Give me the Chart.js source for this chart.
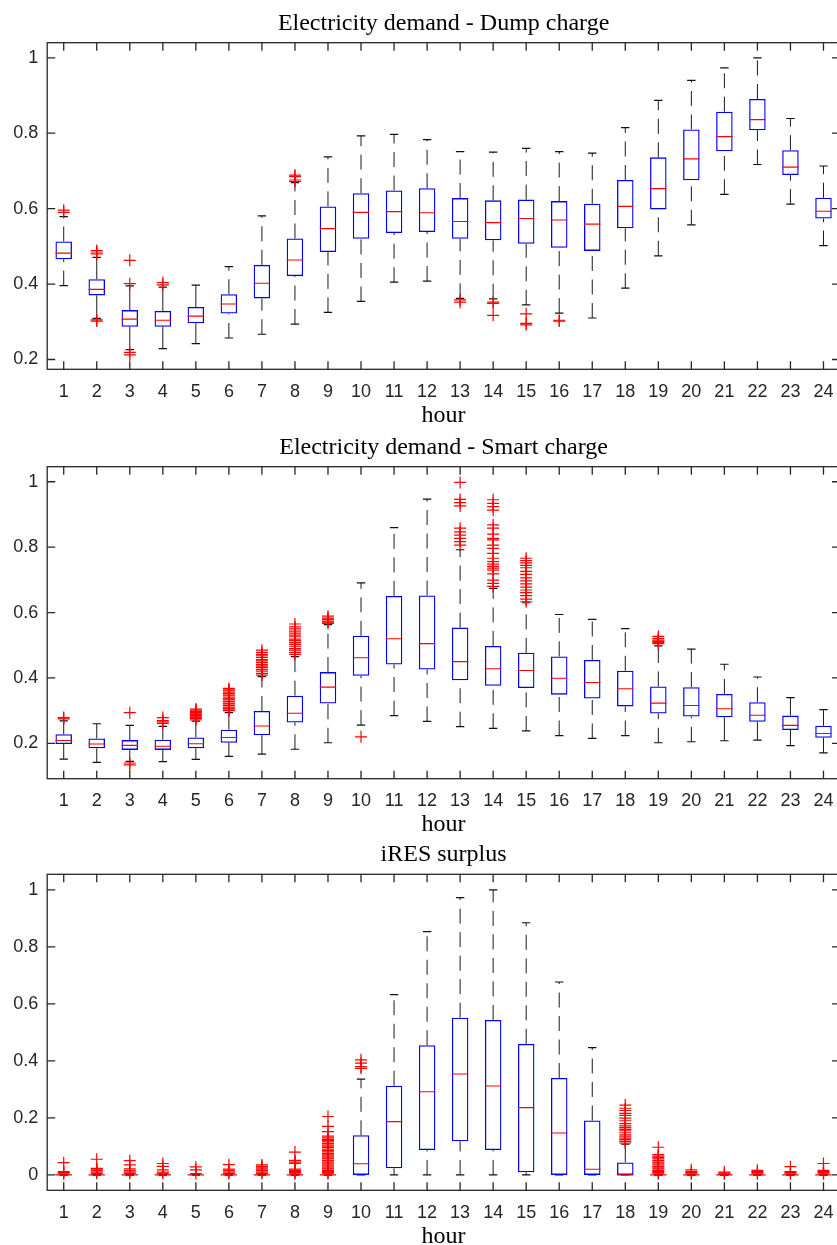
<!DOCTYPE html>
<html><head><meta charset="utf-8">
<script src="https://cdn.jsdelivr.net/npm/chart.js@4.4.1/dist/chart.umd.min.js"></script>
<style>
html,body{margin:0;padding:0;background:#fff;overflow:hidden;width:837px;height:1245px;position:relative;}
canvas{position:absolute;left:0;}
</style></head><body>
<canvas id="c1" width="840" height="430" style="top:0px;width:840px;height:430px"></canvas>
<canvas id="c2" width="840" height="430" style="top:424px;width:840px;height:430px"></canvas>
<canvas id="c3" width="840" height="430" style="top:832px;width:840px;height:430px"></canvas>
<script>
// ---------- data ----------
const hours = [1,2,3,4,5,6,7,8,9,10,11,12,13,14,15,16,17,18,19,20,21,22,23,24];
const xLabel = 'hour';
const titleDump = 'Electricity demand - Dump charge';
const titleSmart = 'Electricity demand - Smart charge';
const titleIres = 'iRES surplus';

const yTicksDump = [0.2, 0.4, 0.6, 0.8, 1];
const yTicksSmart = [0.2, 0.4, 0.6, 0.8, 1];
const yTicksIres = [0, 0.2, 0.4, 0.6, 0.8, 1];
const yLimDump = [0.174, 1.040];
const yLimSmart = [0.092, 1.046];
const yLimIres = [-0.054, 1.055];

const dumpLo  = [0.396,0.309,0.226,0.229,0.242,0.257,0.267,0.294,0.325,0.354,0.405,0.408,0.362,0.361,0.345,0.323,0.310,0.389,0.475,0.557,0.638,0.717,0.612,0.502];
const dumpQ1  = [0.466,0.370,0.287,0.287,0.296,0.322,0.362,0.421,0.485,0.520,0.535,0.538,0.520,0.516,0.507,0.496,0.488,0.548,0.598,0.675,0.752,0.808,0.689,0.574];
const dumpMed = [0.482,0.386,0.307,0.304,0.315,0.347,0.402,0.464,0.547,0.590,0.592,0.589,0.566,0.563,0.574,0.570,0.559,0.606,0.653,0.732,0.791,0.836,0.710,0.593];
const dumpQ3  = [0.513,0.413,0.331,0.329,0.339,0.373,0.451,0.521,0.606,0.641,0.648,0.654,0.628,0.622,0.624,0.620,0.613,0.676,0.736,0.810,0.857,0.891,0.755,0.629];
const dumpHi  = [0.579,0.471,0.395,0.392,0.397,0.446,0.581,0.669,0.737,0.793,0.797,0.783,0.751,0.750,0.760,0.751,0.747,0.815,0.887,0.940,0.973,1.000,0.839,0.713];
const dumpOut = [[0.590,0.596],[0.302,0.305,0.480,0.485,0.489],[0.212,0.219,0.401,0.463],[0.398,0.404],[],[],[],[0.672,0.676,0.685,0.689],[],[],[],[],[0.352,0.358],[0.317,0.349,0.352],[0.292,0.296,0.321],[0.302,0.304],[],[],[],[],[],[],[],[]];

const smartLo  = [0.152,0.142,0.145,0.144,0.151,0.160,0.167,0.182,0.202,0.256,0.285,0.267,0.251,0.246,0.238,0.224,0.215,0.224,0.202,0.205,0.208,0.210,0.193,0.171];
const smartQ1  = [0.198,0.185,0.180,0.180,0.185,0.202,0.225,0.264,0.322,0.407,0.441,0.426,0.393,0.376,0.369,0.349,0.337,0.313,0.291,0.282,0.280,0.266,0.241,0.217];
const smartMed = [0.209,0.198,0.194,0.191,0.199,0.218,0.253,0.292,0.372,0.462,0.520,0.505,0.450,0.428,0.423,0.399,0.386,0.367,0.323,0.316,0.306,0.286,0.255,0.230];
const smartQ3  = [0.228,0.215,0.210,0.211,0.218,0.242,0.299,0.346,0.418,0.529,0.651,0.652,0.554,0.498,0.477,0.466,0.455,0.422,0.374,0.372,0.351,0.326,0.285,0.254];
const smartHi  = [0.269,0.260,0.255,0.252,0.268,0.294,0.404,0.465,0.563,0.691,0.860,0.947,0.792,0.674,0.630,0.594,0.579,0.551,0.498,0.488,0.442,0.403,0.340,0.303];
const smartOut = [
  [0.275,0.279],
  [],
  [0.134,0.140,0.294],
  [0.261,0.266,0.270,0.279],
  [0.272,0.276,0.279,0.281,0.285,0.288,0.290,0.294,0.297,0.299,0.302,0.305],
  [0.300,0.305,0.308,0.311,0.316,0.321,0.323,0.328,0.333,0.336,0.339,0.345,0.348,0.352,0.357,0.361,0.364,0.368],
  [0.409,0.414,0.421,0.426,0.432,0.436,0.441,0.447,0.452,0.456,0.463,0.468,0.472,0.478,0.485],
  [0.472,0.478,0.485,0.490,0.497,0.503,0.508,0.514,0.519,0.526,0.531,0.537,0.543,0.550,0.556,0.565],
  [0.567,0.571,0.574,0.579,0.583,0.589],
  [0.220],
  [],
  [],
  [0.806,0.817,0.827,0.837,0.847,0.858,0.926,0.936,0.946,0.998],
  [0.680,0.689,0.699,0.718,0.730,0.736,0.741,0.748,0.756,0.766,0.781,0.796,0.806,0.822,0.827,0.840,0.858,0.868,0.913,0.924,0.934,0.945],
  [0.633,0.641,0.652,0.661,0.669,0.678,0.688,0.697,0.706,0.717,0.726,0.737,0.744,0.752,0.759,0.766],
  [],[],[],
  [0.505,0.508,0.512,0.516,0.521,0.527],
  [],[],[],[],[]
];

const iresLo  = [0,0,0,0,0,0,0,0,0,0,0,0,0,0,0,0,0,0,0,0,0,0,0,0];
const iresQ1  = [0,0,0,0,0,0,0,0,0,0,0.023,0.087,0.118,0.087,0.009,0,0,0,0,0,0,0,0,0];
const iresMed = [0,0,0,0,0,0,0,0,0,0.039,0.187,0.292,0.354,0.312,0.236,0.147,0.020,0,0,0,0,0,0,0];
const iresQ3  = [0,0,0,0,0,0,0,0,0,0.139,0.313,0.455,0.552,0.544,0.460,0.340,0.191,0.044,0,0,0,0,0,0];
const iresHi  = [0,0,0,0,0,0,0,0,0,0.336,0.633,0.854,0.973,1.000,0.885,0.677,0.447,0.108,0,0,0,0,0,0];
const iresOut = [
  [0.004,0.008,0.012,0.043],
  [0.005,0.010,0.015,0.020,0.023,0.055],
  [0.005,0.010,0.015,0.021,0.035,0.050],
  [0.005,0.010,0.018,0.030,0.040],
  [0.005,0.018,0.028],
  [0.005,0.010,0.015,0.020,0.036],
  [0.005,0.010,0.015,0.020,0.025,0.030,0.035],
  [0.004,0.008,0.012,0.016,0.020,0.040,0.045,0.051,0.080],
  [0.004,0.008,0.012,0.016,0.021,0.025,0.031,0.035,0.041,0.045,0.050,0.056,0.060,0.066,0.070,0.075,0.081,0.085,0.090,0.096,0.101,0.105,0.110,0.116,0.121,0.125,0.130,0.136,0.152,0.170,0.205],
  [0.374,0.380,0.392,0.404],
  [],[],[],[],[],[],[],
  [0.112,0.118,0.124,0.129,0.136,0.141,0.148,0.155,0.160,0.166,0.172,0.180,0.190,0.199,0.209,0.216,0.226,0.234,0.245],
  [0.004,0.008,0.012,0.016,0.021,0.025,0.030,0.035,0.041,0.045,0.050,0.056,0.061,0.066,0.071,0.097],
  [0.004,0.008,0.012,0.018],
  [0.003,0.006,0.010],
  [0.004,0.008,0.012,0.016],
  [0.004,0.008,0.012,0.029],
  [0.004,0.008,0.012,0.016,0.040]
];

// ---------- drawing ----------
const TICK_FONT = {family: 'Liberation Sans, Arial, sans-serif', size: 18};
const SERIF = 'Liberation Serif, Times New Roman, serif';
const SERIF_SIZE = 24;

const framePlugin = {
  id: 'frame',
  afterDraw(chart) {
    const {ctx, chartArea: a, scales: {x, y}} = chart;
    ctx.save();
    ctx.strokeStyle = '#262626';
    ctx.lineWidth = 1.3;
    ctx.strokeRect(a.left, a.top, a.right - a.left, a.bottom - a.top);
    const L = 8;
    ctx.beginPath();
    x.ticks.forEach(t => {
      const px = x.getPixelForValue(t.value);
      ctx.moveTo(px, a.bottom); ctx.lineTo(px, a.bottom - L);
      ctx.moveTo(px, a.top); ctx.lineTo(px, a.top + L);
    });
    y.ticks.forEach(t => {
      const py = y.getPixelForValue(t.value);
      ctx.moveTo(a.left, py); ctx.lineTo(a.left + L, py);
      ctx.moveTo(a.right, py); ctx.lineTo(a.right - L, py);
    });
    ctx.stroke();
    ctx.restore();
  }
};

function makePanel(id, top, plotTop, plotBottom, title, yTicks, yLim, lo, q1, med, q3, hi, out) {
  const H = 430;
  const lh = SERIF_SIZE * 1.2;
  const mid = SERIF_SIZE * 0.3375;
  const tH = plotTop - top;
  const pbLocal = plotBottom - top;
  const xh = H - pbLocal;
  const titleTop = tH - 11.3 - mid - lh / 2;
  const titleBottom = tH - titleTop - lh;
  const hourMid = pbLocal + 54.5 - mid;
  const hourPad = H - lh / 2 - hourMid;

  const whisk = [];
  hours.forEach((h, i) => {
    whisk.push({x: h, y: lo[i]}, {x: h, y: q1[i]}, {x: h, y: null},
               {x: h, y: q3[i]}, {x: h, y: hi[i]}, {x: h, y: null});
  });
  const caps = [];
  hours.forEach((h, i) => { caps.push({x: h, y: lo[i]}, {x: h, y: hi[i]}); });
  const boxes = hours.map((h, i) => ({x: h, y: [q1[i], q3[i]]}));
  const meds = hours.map((h, i) => ({x: h, y: med[i]}));
  const outs = [];
  hours.forEach((h, i) => out[i].forEach(v => outs.push({x: h, y: v})));

  new Chart(document.getElementById(id), {
    type: 'bar',
    data: {
      datasets: [
        {type: 'line', data: whisk, borderColor: '#1a1a1a', borderWidth: 1, pointRadius: 0,
         spanGaps: false, order: 5, fill: false,
         segment: {borderDash: c => (Math.abs(c.p1.y - c.p0.y) < 24.3 ? [] : [15, 8.5])}},
        {type: 'scatter', data: caps, pointStyle: 'line', pointRadius: 4.2,
         borderColor: '#111', borderWidth: 1.2, order: 4},
        {type: 'bar', data: boxes, backgroundColor: 'rgba(0,0,0,0)', borderColor: '#0000ff',
         borderWidth: 1.3, borderSkipped: false, barThickness: 16.5, inflateAmount: 0, order: 3},
        {type: 'scatter', data: meds, pointStyle: 'line', pointRadius: 8.2,
         borderColor: '#ff0000', borderWidth: 1.1, order: 2},
        {type: 'scatter', data: outs, pointStyle: 'cross', pointRadius: 6,
         borderColor: '#ff0000', borderWidth: 1.2, order: 1}
      ]
    },
    options: {
      responsive: false,
      maintainAspectRatio: false,
      animation: false,
      events: [],
      devicePixelRatio: 1,
      layout: {padding: 0, autoPadding: false},
      plugins: {
        legend: {display: false},
        tooltip: {enabled: false},
        title: {display: true, text: title, fullSize: false, color: '#000',
                font: {family: SERIF, size: SERIF_SIZE, weight: 'normal'},
                padding: {top: titleTop, bottom: titleBottom}}
      },
      scales: {
        x: {
          type: 'linear', min: 0.5, max: 24.5, offset: false,
          grid: {display: false, drawTicks: false, offset: false},
          border: {display: false},
          afterBuildTicks: s => { s.ticks = hours.map(v => ({value: v})); },
          ticks: {autoSkip: false, maxRotation: 0, minRotation: 0, padding: 11.6,
                  color: '#262626', font: TICK_FONT, callback: v => String(v)},
          title: {display: true, text: xLabel, color: '#000',
                  font: {family: SERIF, size: SERIF_SIZE, weight: 'normal'},
                  padding: {top: 0, bottom: hourPad}},
          afterFit: s => { s.height = xh; s.paddingLeft = 0; s.paddingRight = 0; s.paddingTop = 0; s.paddingBottom = 0; }
        },
        y: {
          type: 'linear', min: yLim[0], max: yLim[1],
          grid: {display: false, drawTicks: false},
          border: {display: false},
          afterBuildTicks: s => { s.ticks = yTicks.map(v => ({value: v})); },
          ticks: {padding: 8.9, color: '#262626', font: TICK_FONT, callback: v => String(v)},
          afterFit: s => { s.width = 47.2; s.paddingLeft = 0; s.paddingRight = 0; s.paddingTop = 0; s.paddingBottom = 0; }
        }
      }
    },
    plugins: [framePlugin]
  });
}

makePanel('c1', 0, 42.7, 369.3, titleDump, yTicksDump, yLimDump, dumpLo, dumpQ1, dumpMed, dumpQ3, dumpHi, dumpOut);
makePanel('c2', 424, 466.7, 778.7, titleSmart, yTicksSmart, yLimSmart, smartLo, smartQ1, smartMed, smartQ3, smartHi, smartOut);
makePanel('c3', 832, 874.3, 1190.3, titleIres, yTicksIres, yLimIres, iresLo, iresQ1, iresMed, iresQ3, iresHi, iresOut);
</script>
</body></html>
